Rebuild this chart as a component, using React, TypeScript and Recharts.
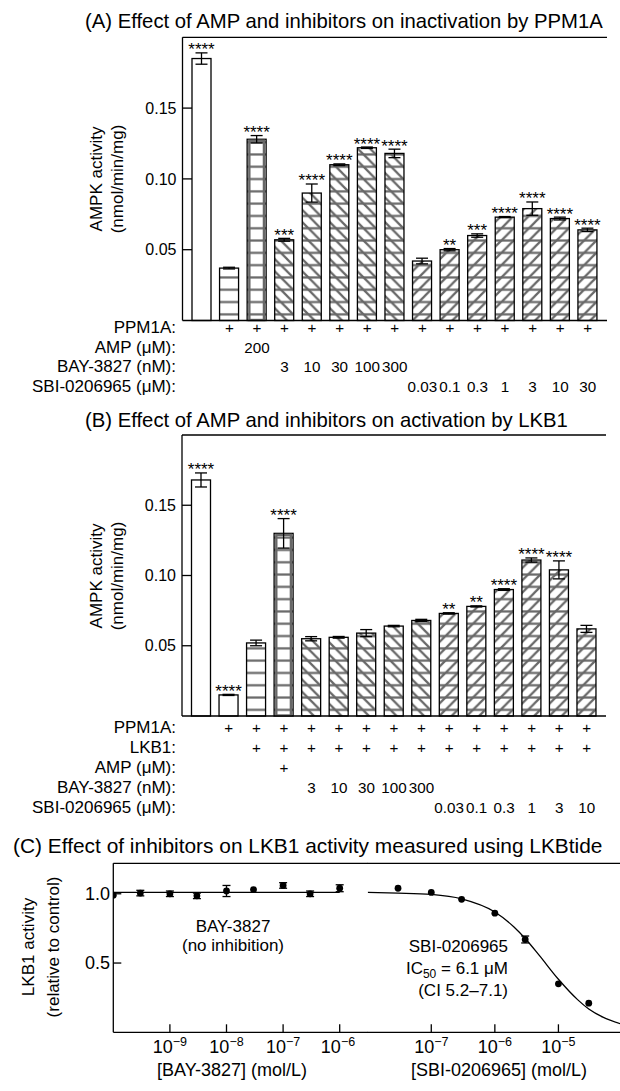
import React from "react";
import {
  BarChart,
  Bar,
  XAxis,
  YAxis,
  ErrorBar,
  ReferenceLine,
  ComposedChart,
  Scatter,
  Line,
} from "recharts";

const FONT = '"Liberation Sans", Arial, Helvetica, sans-serif';
const HATCH = "#686868";
const TILE = 12.3;

// ---------- (A) inactivation by PPM1A ----------
const aNames = ["none", "PPM1A", "AMP 200", "BAY 3", "BAY 10", "BAY 30", "BAY 100", "BAY 300", "SBI 0.03", "SBI 0.1", "SBI 0.3", "SBI 1", "SBI 3", "SBI 10", "SBI 30"];
const aValues = [0.185, 0.037, 0.128, 0.057, 0.09, 0.11, 0.122, 0.118, 0.042, 0.05, 0.06, 0.073, 0.079, 0.072, 0.064];
const aErrs = [0.004, 0.0006, 0.0026, 0.001, 0.0064, 0.0006, 0.0005, 0.003, 0.002, 0.0008, 0.0012, 0.0004, 0.0047, 0.001, 0.0012];
const aStars = ["****", "", "****", "***", "****", "****", "****", "****", "", "**", "***", "****", "****", "****", "****"];
const aKinds = ["none", "h", "amp", "bs", "bs", "bs", "bs", "bs", "fs", "fs", "fs", "fs", "fs", "fs", "fs"];
const aRowNames = ["PPM1A:", "AMP (\u03bcM):", "BAY-3827 (nM):", "SBI-0206965 (\u03bcM):"];
const aPPM = ["", "+", "+", "+", "+", "+", "+", "+", "+", "+", "+", "+", "+", "+", "+"];
const aAMP = ["", "", "200", "", "", "", "", "", "", "", "", "", "", "", ""];
const aBAY = ["", "", "", "3", "10", "30", "100", "300", "", "", "", "", "", "", ""];
const aSBI = ["", "", "", "", "", "", "", "", "0.03", "0.1", "0.3", "1", "3", "10", "30"];

// ---------- (B) activation by LKB1 ----------
const bNames = ["none", "PPM1A", "PPM1A+LKB1", "AMP", "BAY 3", "BAY 10", "BAY 30", "BAY 100", "BAY 300", "SBI 0.03", "SBI 0.1", "SBI 0.3", "SBI 1", "SBI 3", "SBI 10"];
const bValues = [0.168, 0.015, 0.052, 0.13, 0.055, 0.056, 0.059, 0.064, 0.068, 0.073, 0.078, 0.09, 0.111, 0.104, 0.062];
const bErrs = [0.005, 0.0004, 0.002, 0.0105, 0.0015, 0.0006, 0.0025, 0.0005, 0.0008, 0.0005, 0.0004, 0.0006, 0.0015, 0.0064, 0.0025];
const bStars = ["****", "****", "", "****", "", "", "", "", "", "**", "**", "****", "****", "****", ""];
const bKinds = ["none", "none", "h", "amp", "bs", "bs", "bs", "bs", "bs", "fs", "fs", "fs", "fs", "fs", "fs"];
const bRowNames = ["PPM1A:", "LKB1:", "AMP (\u03bcM):", "BAY-3827 (nM):", "SBI-0206965 (\u03bcM):"];
const bPPM = ["", "+", "+", "+", "+", "+", "+", "+", "+", "+", "+", "+", "+", "+", "+"];
const bLKB = ["", "", "+", "+", "+", "+", "+", "+", "+", "+", "+", "+", "+", "+", "+"];
const bAMP = ["", "", "", "+", "", "", "", "", "", "", "", "", "", "", ""];
const bBAY = ["", "", "", "", "3", "10", "30", "100", "300", "", "", "", "", "", ""];
const bSBI = ["", "", "", "", "", "", "", "", "", "0.03", "0.1", "0.3", "1", "3", "10"];

const barTicks = [0.05, 0.1, 0.15];

// ---------- (C) LKBtide assay ----------
const bayConc = [1e-10, 3e-10, 1e-9, 3e-9, 1e-8, 3e-8, 1e-7, 3e-7, 1e-6];
const bayAct = [0.99, 1.005, 1.0, 0.985, 1.02, 1.03, 1.06, 1.0, 1.04];
const bayErr = [0, 0.02, 0.02, 0.02, 0.04, 0, 0.02, 0.02, 0.025];
const bayFitX = [1e-10, 1e-6];
const bayFitY = [1.01, 1.01];

const sbiConc = [3e-8, 1e-7, 3e-7, 1e-6, 3e-6, 1e-5, 3e-5];
const sbiAct = [1.04, 1.01, 0.96, 0.86, 0.67, 0.35, 0.21];
const sbiErr = [0, 0, 0, 0, 0.025, 0, 0];
const sbiFitX = [1e-8, 3e-8, 1e-7, 3e-7, 1e-6, 2e-6, 3e-6, 5e-6, 1e-5, 2e-5, 3e-5, 5e-5, 1e-4];
const sbiFitY = [1.01, 1.005, 0.995, 0.963, 0.868, 0.76, 0.677, 0.555, 0.383, 0.236, 0.168, 0.109, 0.058];

const lkbTicks = [0.5, 1.0];

function HatchBar(props: any) {
  const { x, y, width, height, index, payload, prefix } = props;
  if (width == null || height == null) return null;
  const kind = payload.kind;
  const id = `${prefix}-hatch-${index}`;
  const S = TILE;
  const errPx = payload.v ? (height * payload.err) / payload.v : 0;
  return (
    <g>
      {kind !== "none" && (
        <defs>
          <pattern id={id} patternUnits="userSpaceOnUse" x={x} y={y + height} width={S} height={S}>
            <rect width={S} height={S} fill="#fff" />
            <line x1={0} y1={S / 2} x2={S} y2={S / 2} stroke={HATCH} strokeWidth={2.2} />
            {kind === "bs" && (
              <path
                d={`M0,0 L${S},${S} M${S - 2},-2 L${S + 2},2 M-2,${S - 2} L2,${S + 2}`}
                stroke={HATCH}
                strokeWidth={2.2}
              />
            )}
            {kind === "fs" && (
              <path
                d={`M0,${S} L${S},0 M-2,2 L2,-2 M${S - 2},${S + 2} L${S + 2},${S - 2}`}
                stroke={HATCH}
                strokeWidth={2.2}
              />
            )}
          </pattern>
        </defs>
      )}
      <rect
        x={x}
        y={y}
        width={width}
        height={height}
        fill={kind === "none" ? "#fff" : `url(#${id})`}
        stroke="#000"
        strokeWidth={1.3}
      />
      {kind === "amp" && (
        <rect x={x + 2.2} y={y + 1.5} width={width - 4.4} height={height - 2} fill="none" stroke={HATCH} strokeWidth={2.4} />
      )}
      {payload.stars && (
        <text x={x + width / 2} y={y - errPx + 2.5} textAnchor="middle" fontSize={17} fontFamily={FONT} fill="#000">
          {payload.stars}
        </text>
      )}
    </g>
  );
}

function RowsTick(props: any) {
  const { x, y, index, rows, offsets } = props;
  return (
    <g>
      {rows.map((r: string[], k: number) =>
        r[index] ? (
          <text key={k} x={x} y={y + offsets[k]} textAnchor="middle" fontSize={15.2} fontFamily={FONT} fill="#000">
            {r[index]}
          </text>
        ) : null
      )}
    </g>
  );
}

function BarPanel(props: any) {
  const { top, height, plotTop, plotBottom, plotLeft, plotRight, names, values, errs, stars, kinds, rows, offsets, prefix } = props;
  const data = names.map((n: string, i: number) => ({ name: n, v: values[i], err: errs[i], stars: stars[i], kind: kinds[i] }));
  const axisH = height - (plotBottom - top);
  return (
    <div style={{ position: "absolute", left: 0, top, width: 620, height }}>
      <BarChart
        width={620}
        height={height}
        data={data}
        barSize={19}
        margin={{ top: plotTop - top, right: 620 - plotRight, bottom: 0, left: plotLeft - 60 }}
      >
        <XAxis
          dataKey="name"
          height={axisH}
          interval={0}
          tickSize={0}
          tickMargin={0}
          padding={{ left: 5.5, right: 5.5 }}
          axisLine={{ stroke: "#000", strokeWidth: 1.3 }}
          tickLine={false}
          tick={(p: any) => <RowsTick {...p} rows={rows} offsets={offsets} />}
        />
        <YAxis
          domain={[0, 0.2]}
          ticks={barTicks}
          width={60}
          tickSize={-9.5}
          tickMargin={15.5}
          tickFormatter={(v: number) => v.toFixed(2)}
          axisLine={{ stroke: "#000", strokeWidth: 1.3 }}
          tickLine={{ stroke: "#000", strokeWidth: 1.3 }}
          tick={{ fill: "#000", fontSize: 16, fontFamily: FONT }}
        />
        <YAxis
          yAxisId="r"
          orientation="right"
          domain={[0, 0.2]}
          width={0}
          tick={false}
          tickLine={false}
          axisLine={{ stroke: "#000", strokeWidth: 1.3 }}
        />
        <ReferenceLine y={0.2} stroke="#000" strokeWidth={1.3} />
        <Bar dataKey="v" isAnimationActive={false} shape={(p: any) => <HatchBar {...p} prefix={prefix} />}>
          <ErrorBar dataKey="err" width={6} stroke="#000" strokeWidth={1.3} isAnimationActive={false} />
        </Bar>
      </BarChart>
    </div>
  );
}

function PowTick(props: any) {
  const { x, y, payload } = props;
  const e = Math.round(Math.log10(payload.value));
  return (
    <text x={x} y={y + 21} textAnchor="middle" fontSize={18} fontFamily={FONT} fill="#000">
      10
      <tspan dy={-7} fontSize={12.5}>
        {"\u2212" + Math.abs(e)}
      </tspan>
    </text>
  );
}

const dot = (p: any) => <circle cx={p.cx} cy={p.cy} r={3.4} fill="#000" />;

function DosePanel(props: any) {
  const { left, width, marginLeft, yWidth, domain, ticks, conc, act, err, fitX, fitY, showLabels } = props;
  const pts = conc.map((c: number, i: number) => ({ x: c, y: act[i], err: err[i] }));
  const fit = fitX.map((c: number, i: number) => ({ x: c, y: fitY[i] }));
  return (
    <div style={{ position: "absolute", left, top: 840, width, height: 251 }}>
      <ComposedChart width={width} height={251} margin={{ top: 23.3, right: 0, bottom: 0, left: marginLeft }}>
        <XAxis
          dataKey="x"
          type="number"
          scale="log"
          domain={domain}
          allowDataOverflow
          ticks={ticks}
          height={58.7}
          tickSize={-8}
          tickMargin={8}
          axisLine={{ stroke: "#000", strokeWidth: 1.3 }}
          tickLine={{ stroke: "#000", strokeWidth: 1.3 }}
          tick={(p: any) => <PowTick {...p} />}
        />
        <YAxis
          dataKey="y"
          type="number"
          domain={[0, 1.22]}
          ticks={lkbTicks}
          width={yWidth}
          tickSize={-8}
          tickMargin={11.3}
          tickFormatter={(v: number) => v.toFixed(1)}
          axisLine={{ stroke: "#000", strokeWidth: 1.3 }}
          tickLine={{ stroke: "#000", strokeWidth: 1.3 }}
          tick={showLabels ? { fill: "#000", fontSize: 18, fontFamily: FONT } : false}
        />
        <ReferenceLine y={1.22} stroke="#000" strokeWidth={1.3} />
        <Line data={fit} dataKey="y" type="monotone" stroke="#000" strokeWidth={1.3} dot={false} isAnimationActive={false} />
        <Scatter data={pts} dataKey="y" shape={dot} isAnimationActive={false}>
          <ErrorBar dataKey="err" direction="y" width={4} stroke="#000" strokeWidth={1.3} isAnimationActive={false} />
        </Scatter>
      </ComposedChart>
    </div>
  );
}

function Txt(props: any) {
  const { x, y, anchor = "start", size = 17, rotate = false, children } = props;
  if (rotate) {
    return (
      <text transform={`translate(${x},${y}) rotate(-90)`} textAnchor="middle" dy="0.35em" fontSize={size} fontFamily={FONT} fill="#000">
        {children}
      </text>
    );
  }
  return (
    <text x={x} y={y} textAnchor={anchor} fontSize={size} fontFamily={FONT} fill="#000">
      {children}
    </text>
  );
}

const aOffsets = [12.5, 32, 51.5, 71];
const bOffsets = [17, 37, 57, 77, 97];

export default function App() {
  return (
    <div
      style={{
        position: "absolute",
        left: 0,
        top: 0,
        width: 620,
        height: 1091,
        overflow: "hidden",
        background: "#fff",
        fontFamily: FONT,
      }}
    >
      <BarPanel
        top={0}
        height={400}
        plotTop={37.3}
        plotBottom={320.5}
        plotLeft={182.5}
        plotRight={607}
        names={aNames}
        values={aValues}
        errs={aErrs}
        stars={aStars}
        kinds={aKinds}
        rows={[aPPM, aAMP, aBAY, aSBI]}
        offsets={aOffsets}
        prefix="a"
      />
      <BarPanel
        top={400}
        height={420}
        plotTop={435}
        plotBottom={716}
        plotLeft={182}
        plotRight={606}
        names={bNames}
        values={bValues}
        errs={bErrs}
        stars={bStars}
        kinds={bKinds}
        rows={[bPPM, bLKB, bAMP, bBAY, bSBI]}
        offsets={bOffsets}
        prefix="b"
      />
      <DosePanel
        left={0}
        width={368}
        marginLeft={73.3}
        yWidth={40}
        domain={[1e-10, Math.pow(10, -5.5)]}
        ticks={[1e-9, 1e-8, 1e-7, 1e-6]}
        conc={bayConc}
        act={bayAct}
        err={bayErr}
        fitX={bayFitX}
        fitY={bayFitY}
        showLabels
      />
      <DosePanel
        left={360}
        width={262}
        marginLeft={7.7}
        yWidth={0}
        domain={[1e-8, 1e-4]}
        ticks={[1e-7, 1e-6, 1e-5]}
        conc={sbiConc}
        act={sbiAct}
        err={sbiErr}
        fitX={sbiFitX}
        fitY={sbiFitY}
        showLabels={false}
      />
      <svg width={620} height={1091} style={{ position: "absolute", left: 0, top: 0, pointerEvents: "none" }}>
        <Txt x={85} y={28} size={20.3}>(A) Effect of AMP and inhibitors on inactivation by PPM1A</Txt>
        <Txt x={85} y={427} size={20.3}>(B) Effect of AMP and inhibitors on activation by LKB1</Txt>
        <Txt x={13} y={853} size={20.9}>(C) Effect of inhibitors on LKB1 activity measured using LKBtide</Txt>

        <Txt x={96} y={179} rotate>AMPK activity</Txt>
        <Txt x={117} y={179} rotate>(nmol/min/mg)</Txt>
        <Txt x={96} y={576} rotate>AMPK activity</Txt>
        <Txt x={117} y={576} rotate>(nmol/min/mg)</Txt>
        <Txt x={28} y={947} rotate>LKB1 activity</Txt>
        <Txt x={53} y={947} rotate>(relative to control)</Txt>

        {aRowNames.map((n, k) => (
          <Txt key={n} x={176} y={320.5 + aOffsets[k]} anchor="end" size={17}>{n}</Txt>
        ))}
        {bRowNames.map((n, k) => (
          <Txt key={n} x={176} y={716 + bOffsets[k]} anchor="end" size={17}>{n}</Txt>
        ))}

        <Txt x={233} y={932} anchor="middle">BAY-3827</Txt>
        <Txt x={233} y={951} anchor="middle">(no inhibition)</Txt>
        <Txt x={508} y={952} anchor="end">SBI-0206965</Txt>
        <text x={508} y={974} textAnchor="end" fontSize={17} fontFamily={FONT} fill="#000">
          IC<tspan dy={4} fontSize={12}>50</tspan>
          <tspan dy={-4}> = 6.1 {"\u03bc"}M</tspan>
        </text>
        <Txt x={508} y={996} anchor="end">(CI 5.2{"\u2013"}7.1)</Txt>

        <Txt x={232} y={1076} anchor="middle" size={18}>[BAY-3827] (mol/L)</Txt>
        <Txt x={499} y={1076} anchor="middle" size={18}>[SBI-0206965] (mol/L)</Txt>
      </svg>
    </div>
  );
}
